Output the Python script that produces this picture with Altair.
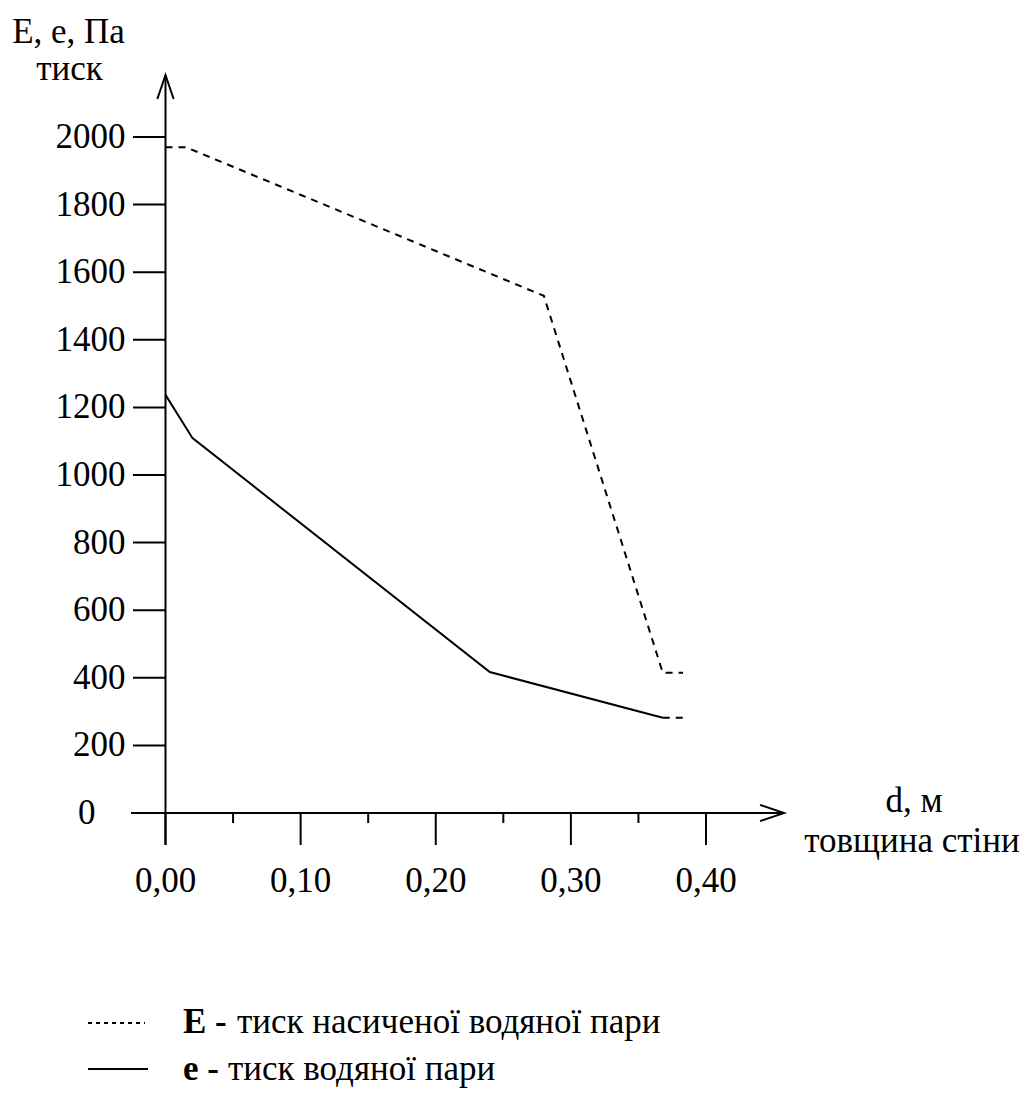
import altair as alt
import pandas as pd

# ---- data ----
# E - saturated water vapour pressure (dashed)
E_d = [0.0, 0.015, 0.28, 0.368, 0.383]
E_p = [1970, 1970, 1530, 415, 415]
# e - water vapour pressure (solid) + dashed tail
e_d = [0.0, 0.02, 0.24, 0.368]
e_p = [1237, 1109, 417, 282]
e_tail_d = [0.368, 0.383]
e_tail_p = [282, 282]

y_ticks = [0, 200, 400, 600, 800, 1000, 1200, 1400, 1600, 1800, 2000]
x_major = [0.0, 0.1, 0.2, 0.3, 0.4]
x_major_labels = ["0,00", "0,10", "0,20", "0,30", "0,40"]
x_minor = [0.05, 0.15, 0.25, 0.35]

FONT = "Liberation Serif, Times New Roman, serif"
FS = 35
W, H = 540.5, 676
SW = 2

xs = alt.Scale(domain=[0, 0.4], nice=False, zero=False)
ys = alt.Scale(domain=[0, 2000], nice=False, zero=False)

dfE = pd.DataFrame({"d": E_d, "p": E_p})
dfe = pd.DataFrame({"d": e_d, "p": e_p})
dfet = pd.DataFrame({"d": e_tail_d, "p": e_tail_p})
dfyt = pd.DataFrame({"v": y_ticks, "lab": [str(v) for v in y_ticks]})
dfxm = pd.DataFrame({"v": x_major, "lab": x_major_labels})
dfxn = pd.DataFrame({"v": x_minor})
origin = pd.DataFrame({"d": [0.0], "p": [0.0]})
one = pd.DataFrame({"k": [0]})


def X(f):
    return alt.X(f, scale=xs, axis=None)


def Y(f):
    return alt.Y(f, scale=ys, axis=None)


line_E = alt.Chart(dfE).mark_line(color="black", strokeWidth=SW, strokeDash=[7, 6], clip=False).encode(
    x=X("d:Q"), y=Y("p:Q"), order="d:Q")
line_e = alt.Chart(dfe).mark_line(color="black", strokeWidth=SW, clip=False).encode(
    x=X("d:Q"), y=Y("p:Q"), order="d:Q")
line_et = alt.Chart(dfet).mark_line(color="black", strokeWidth=SW, strokeDash=[7, 6], clip=False).encode(
    x=X("d:Q"), y=Y("p:Q"))

# axis lines through the origin
yaxis = alt.Chart(origin).mark_rule(color="black", strokeWidth=SW).encode(
    x=X("d:Q"), y=alt.value(-62), y2=alt.value(708))
xaxis = alt.Chart(origin).mark_rule(color="black", strokeWidth=SW).encode(
    y=Y("p:Q"), x=alt.value(-34.5), x2=alt.value(618.5))

arrow_path = "M -1 -0.34 L 0 0 L -1 0.34"
xarrow = alt.Chart(one).mark_point(shape=arrow_path, size=2304, filled=False, color="black",
                                   strokeWidth=SW, opacity=1).encode(
    x=alt.value(618.5), y=alt.value(H))
yarrow = alt.Chart(one).mark_point(shape=arrow_path, size=2304, filled=False, color="black",
                                   strokeWidth=SW, opacity=1, angle=270).encode(
    x=alt.value(0), y=alt.value(-62))

# ticks and labels
yt = alt.Chart(dfyt).mark_rule(color="black", strokeWidth=SW).encode(
    y=Y("v:Q"), x=alt.value(-32.5), x2=alt.value(0))
ylab = alt.Chart(dfyt).transform_filter("datum.v > 0").mark_text(
    font=FONT, fontSize=FS, align="right", baseline="middle", color="black").encode(
    y=Y("v:Q"), x=alt.value(-40), text="lab:N")
ylab0 = alt.Chart(dfyt).transform_filter("datum.v == 0").mark_text(
    font=FONT, fontSize=FS, align="right", baseline="middle", color="black").encode(
    y=Y("v:Q"), x=alt.value(-70), text="lab:N")
xt = alt.Chart(dfxm).mark_rule(color="black", strokeWidth=SW).encode(
    x=X("v:Q"), y=alt.value(H), y2=alt.value(H + 32))
xtn = alt.Chart(dfxn).mark_rule(color="black", strokeWidth=SW).encode(
    x=X("v:Q"), y=alt.value(H), y2=alt.value(H + 10))
xlab = alt.Chart(dfxm).mark_text(font=FONT, fontSize=FS, align="center", baseline="middle", color="black").encode(
    x=X("v:Q"), y=alt.value(H + 68), text="lab:N")


def txt(s, x, y, align="center", weight="normal"):
    return alt.Chart(one).mark_text(text=s, font=FONT, fontSize=FS, align=align, baseline="alphabetic",
                                    color="black", fontWeight=weight).encode(
        x=alt.value(x), y=alt.value(y))


titles = [
    txt("E, e, Па", -97, -94),
    txt("тиск", -96, -57),
    txt("d, м", 748.5, 675),
    txt("товщина стіни", 746.5, 715),
    txt("E -", 17.5, 896, align="left", weight="bold"),
    txt("тиск насиченої водяної пари", 71.5, 896, align="left"),
    txt("e -", 17.5, 943, align="left", weight="bold"),
    txt("тиск водяної пари", 62.5, 943, align="left"),
]

leg1 = alt.Chart(one).mark_rule(color="black", strokeWidth=SW, strokeDash=[4, 4]).encode(
    x=alt.value(-77.5), x2=alt.value(-20.5), y=alt.value(886))
leg2 = alt.Chart(one).mark_rule(color="black", strokeWidth=SW).encode(
    x=alt.value(-77.5), x2=alt.value(-17.5), y=alt.value(932))

chart = alt.layer(
    yaxis, xaxis, xarrow, yarrow, yt, ylab, ylab0, xt, xtn, xlab,
    line_E, line_e, line_et, leg1, leg2, *titles
).properties(
    width=W, height=H,
    padding={"left": 157.5, "top": 129, "right": 316, "bottom": 277},
    autosize=alt.AutoSizeParams(type="none"),
    background="white",
).configure_view(stroke=None)

chart.save("out.html", embed_options={"renderer": "svg", "actions": False})
